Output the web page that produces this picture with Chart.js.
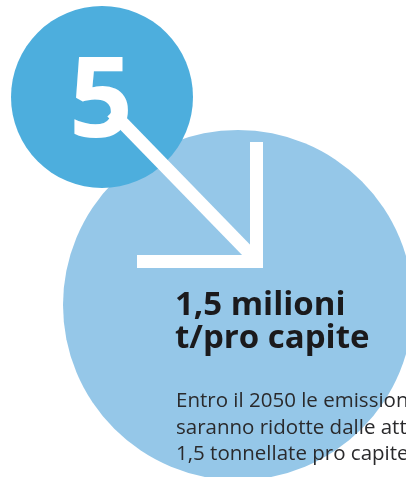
<!DOCTYPE html>
<html>
<head>
<meta charset="utf-8">
<script src="https://cdn.jsdelivr.net/npm/chart.js@4.4.1/dist/chart.umd.min.js"></script>
<style>
  html, body { margin: 0; padding: 0; background: #fff; }
  #wrap { width: 406px; height: 477px; }
</style>
</head>
<body>
<div id="wrap"><canvas id="chart"></canvas></div>
<script>
// values shown in the two circles
const labels = ["oggi", "2050"];
const values = [5, 1.5];
const headline = ["1,5 milioni", "t/pro capite"];
const body = [
    "Entro il 2050 le emissioni",
    "saranno ridotte dalle attuali",
    "1,5 tonnellate pro capite"
];

// circle layout (pixels) - large circle first so the small one sits on top
const bubbles = [
    { x: 238, y: 305, r: 175, color: "#95c7e8" },
    { x: 102, y: 97, r: 91, color: "#4daedd" }
];

const overlay = {
    id: "overlay",
    afterDatasetsDraw(chart) {
        const ctx = chart.ctx;
        const sx = chart.scales.x, sy = chart.scales.y;
        const px = v => sx.getPixelForValue(v);
        const py = v => sy.getPixelForValue(v);
        ctx.save();

        // arrow
        ctx.strokeStyle = "#fff";
        ctx.lineWidth = 13;
        ctx.lineCap = "butt";
        ctx.beginPath();
        ctx.moveTo(px(112), py(112));
        ctx.lineTo(px(254), py(258));
        ctx.stroke();
        ctx.beginPath();
        ctx.moveTo(px(256.5), py(142));
        ctx.lineTo(px(256.5), py(268));
        ctx.moveTo(px(137), py(261.5));
        ctx.lineTo(px(263), py(261.5));
        ctx.stroke();

        // number in small circle
        ctx.fillStyle = "#fff";
        ctx.font = "bold 112px 'Open Sans'";
        ctx.textAlign = "center";
        ctx.textBaseline = "alphabetic";
        ctx.fillText(String(values[0]), px(101), py(137));

        // headline
        ctx.textAlign = "left";
        ctx.fillStyle = "#1b1a1c";
        ctx.font = "bold 33px 'Open Sans'";
        ctx.fillText(headline[0], px(175), py(315));
        ctx.fillText(headline[1], px(175), py(348));

        // body
        ctx.fillStyle = "#2a2a2c";
        ctx.font = "20.5px 'Open Sans'";
        body.forEach((t, i) => ctx.fillText(t, px(176), py(407 + i * 26.5)));
        ctx.restore();
    }
};

new Chart(document.getElementById("chart"), {
    type: "bubble",
    data: {
        labels: labels,
        datasets: [{
            data: bubbles.map(b => ({ x: b.x, y: b.y, r: b.r })),
            backgroundColor: bubbles.map(b => b.color),
            borderWidth: 0,
            hoverRadius: 0
        }]
    },
    options: {
        responsive: true,
        maintainAspectRatio: false,
        animation: false,
        layout: { padding: 0, autoPadding: false },
        scales: {
            x: { type: "linear", min: 0, max: 406, display: false },
            y: { type: "linear", min: 0, max: 477, reverse: true, display: false }
        },
        plugins: {
            legend: { display: false },
            tooltip: { enabled: false }
        }
    },
    plugins: [overlay]
});
</script>
</body>
</html>
